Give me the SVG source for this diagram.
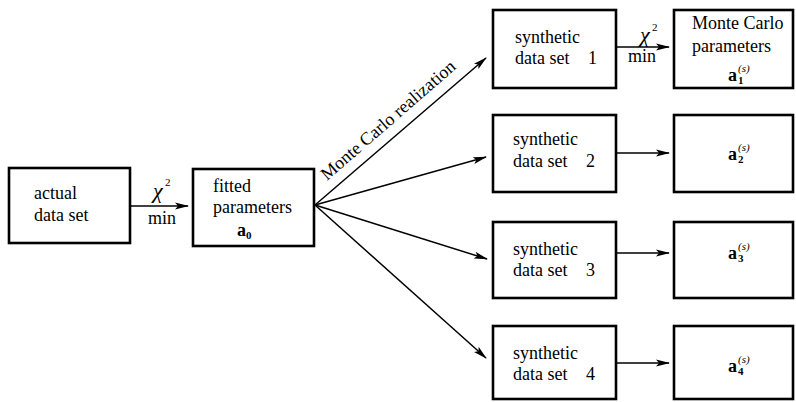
<svg xmlns="http://www.w3.org/2000/svg" width="796" height="402" viewBox="0 0 796 402">
<style>
.box{fill:#fff;stroke:#000;stroke-width:2.6}
.t{font-family:"Liberation Serif","Times New Roman",serif;font-size:18px;fill:#000}
.b{font-weight:bold}
.sm{font-size:11px}
.it{font-style:italic}
.chi{font-size:22px;font-style:italic}
.ln{stroke:#000;stroke-width:1.5;fill:none}
</style>
<defs>
<marker id="ah" markerWidth="14" markerHeight="8" refX="13" refY="4" orient="auto" markerUnits="userSpaceOnUse">
<path d="M0,0.5 L14,4 L0,7.5 L3,4 Z" fill="#000"/>
</marker>
</defs>
<rect width="796" height="402" fill="#fff"/>
<g id="n-actual">
<rect class="box" x="9" y="168" width="121" height="75"/>
<text class="t" x="34" y="199">actual</text>
<text class="t" x="34" y="221">data set</text>
</g>
<g id="n-fitted">
<rect class="box" x="193" y="169" width="121" height="77"/>
<text class="t" x="213" y="192">fitted</text>
<text class="t" x="213" y="213">parameters</text>
<text class="t b" x="237" y="236">a<tspan class="sm" dy="3">0</tspan></text>
</g>
<g id="n-syn1">
<rect class="box" x="493" y="10" width="123" height="78"/>
<text class="t" x="515" y="43">synthetic</text>
<text class="t" x="515" y="64">data set<tspan x="588">1</tspan></text>
</g>
<g id="n-syn2">
<rect class="box" x="493" y="115" width="123" height="77"/>
<text class="t" x="513" y="145">synthetic</text>
<text class="t" x="513" y="167">data set<tspan x="586">2</tspan></text>
</g>
<g id="n-syn3">
<rect class="box" x="493" y="222" width="123" height="76"/>
<text class="t" x="513" y="255">synthetic</text>
<text class="t" x="513" y="276">data set<tspan x="586">3</tspan></text>
</g>
<g id="n-syn4">
<rect class="box" x="493" y="326" width="123" height="73"/>
<text class="t" x="513" y="359">synthetic</text>
<text class="t" x="513" y="380">data set<tspan x="586">4</tspan></text>
</g>
<g id="n-res1">
<rect class="box" x="674" y="10" width="119" height="78"/>
<text class="t" x="692" y="29">Monte Carlo</text>
<text class="t" x="692" y="52">parameters</text>
<text class="t b" x="728" y="81">a</text>
<text class="t sm it" x="738" y="72">(s)</text>
<text class="t sm b" x="738" y="84">1</text>
</g>
<g id="n-res2">
<rect class="box" x="674" y="115" width="119" height="77"/>
<text class="t b" x="728" y="160">a</text>
<text class="t sm it" x="738" y="151">(s)</text>
<text class="t sm b" x="738" y="163">2</text>
</g>
<g id="n-res3">
<rect class="box" x="674" y="222" width="119" height="76"/>
<text class="t b" x="728" y="259">a</text>
<text class="t sm it" x="738" y="250">(s)</text>
<text class="t sm b" x="738" y="262">3</text>
</g>
<g id="n-res4">
<rect class="box" x="674" y="326" width="119" height="73"/>
<text class="t b" x="728" y="372">a</text>
<text class="t sm it" x="738" y="363">(s)</text>
<text class="t sm b" x="738" y="375">4</text>
</g>
<g id="connectors">
<line class="ln" x1="131" y1="206" x2="188" y2="206" marker-end="url(#ah)"/>
<line class="ln" x1="315" y1="205" x2="486" y2="58" marker-end="url(#ah)"/>
<line class="ln" x1="315" y1="205" x2="486" y2="157" marker-end="url(#ah)"/>
<line class="ln" x1="315" y1="205" x2="487" y2="259" marker-end="url(#ah)"/>
<line class="ln" x1="315" y1="205" x2="486" y2="358" marker-end="url(#ah)"/>
<line class="ln" x1="617" y1="47" x2="669" y2="47" marker-end="url(#ah)"/>
<line class="ln" x1="617" y1="153" x2="669" y2="153" marker-end="url(#ah)"/>
<line class="ln" x1="617" y1="253" x2="669" y2="253" marker-end="url(#ah)"/>
<line class="ln" x1="617" y1="363" x2="669" y2="363" marker-end="url(#ah)"/>
<text class="t chi" x="153" y="198">χ</text>
<text class="t sm" x="165" y="186">2</text>
<text class="t" x="148" y="224">min</text>
<text class="t chi" x="640" y="42">χ</text>
<text class="t sm" x="652" y="31">2</text>
<text class="t" x="628" y="62">min</text>
<text class="t" x="327" y="181" font-size="19" transform="rotate(-41 327 181)">Monte Carlo realization</text>
</g>
</svg>
